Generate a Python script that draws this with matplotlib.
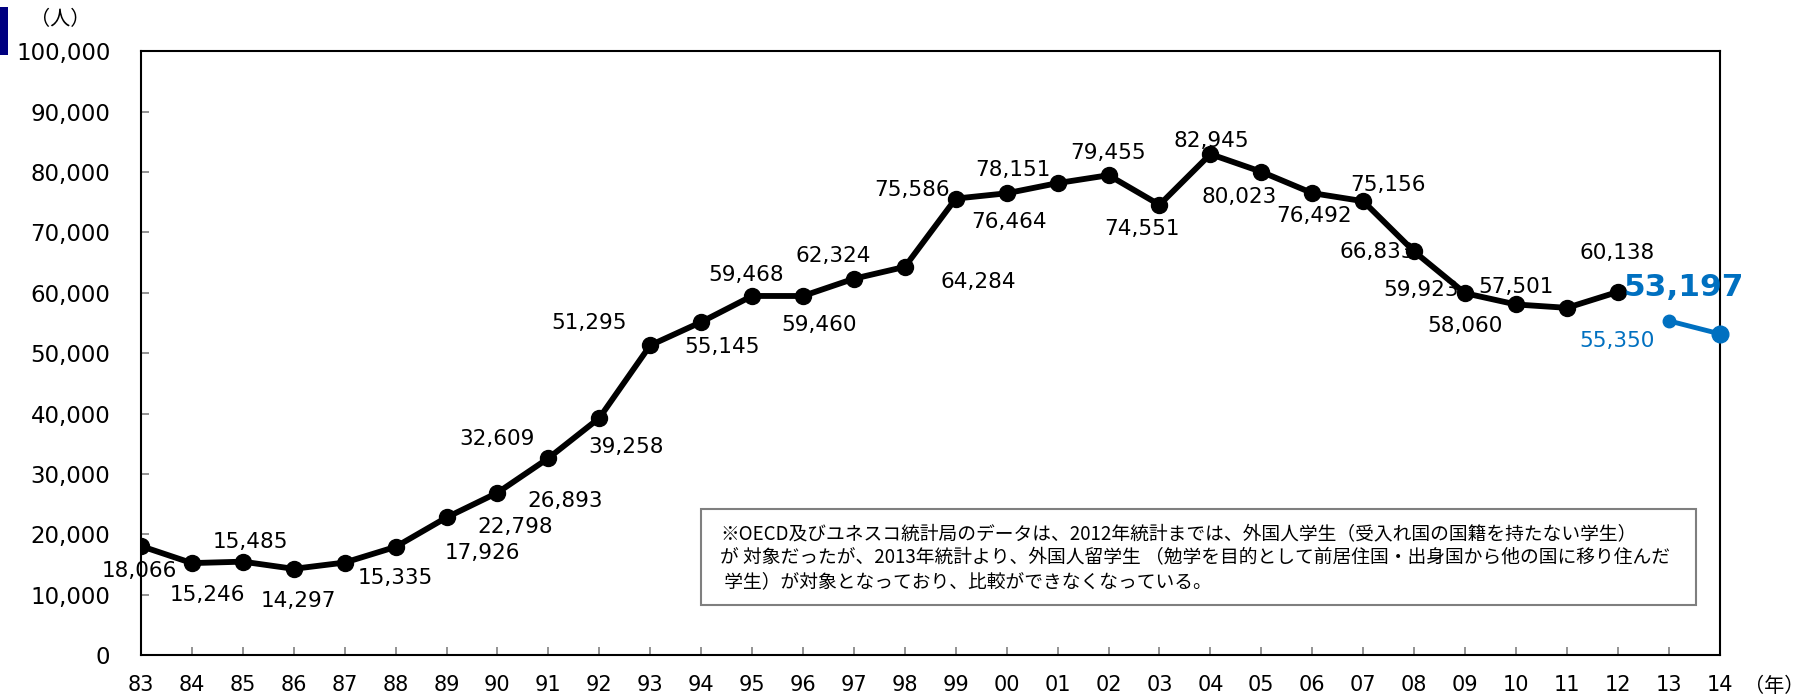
import matplotlib
matplotlib.use("Agg")
import matplotlib.pyplot as plt
from matplotlib.patches import Rectangle
import numpy as np

plt.rcParams['font.family'] = ['DejaVu Sans', 'Noto Sans CJK JP']

# data
years = ['83', '84', '85', '86', '87', '88', '89', '90', '91', '92', '93', '94', '95',
         '96', '97', '98', '99', '00', '01', '02', '03', '04', '05', '06', '07', '08',
         '09', '10', '11', '12', '13', '14']
students_old = [18066, 15246, 15485, 14297, 15335, 17926, 22798, 26893, 32609, 39258,
                51295, 55145, 59468, 59460, 62324, 64284, 75586, 76464, 78151, 79455,
                74551, 82945, 80023, 76492, 75156, 66833, 59923, 58060, 57501, 60138]
students_new = [55350, 53197]
yticks = list(range(0, 100001, 10000))
note = ("※OECD及びユネスコ統計局のデータは、2012年統計までは、外国人学生（受入れ国の国籍を持たない学生）\n"
        "が 対象だったが、2013年統計より、外国人留学生 （勉学を目的として前居住国・出身国から他の国に移り住んだ\n"
        " 学生）が対象となっており、比較ができなくなっている。")

# label offsets in pixels (hand placed like the original)
old_offsets = [(-2, -25), (16, -32), (8, 20), (5, -32), (51, -15), (87, -6), (69, -10),
               (68, -8), (-51, 19), (27, -29), (-61, 22), (21, -25), (-6, 21), (16, -29),
               (-21, 23), (73, -15), (-44, 9), (2, -29), (-45, 13), (0, 22), (-17, -24),
               (1, 13), (-22, -25), (2, -23), (25, 16), (-37, -1), (-44, 3), (-51, -22),
               (-51, 21), (-1, 39)]
new_offsets = [(-52, -20), (-36, 46)]

BLUE = '#0070C0'

fig = plt.figure(figsize=(18.14, 7.0), dpi=100)
ax = fig.add_axes([0.0777, 0.064, 0.8703, 0.863])

x_old = np.arange(len(students_old))
x_new = np.arange(len(students_old), len(years))

ax.plot(x_old, students_old, color='black', lw=4.2, marker='o', ms=11.5, zorder=3)
ax.plot(x_new, students_new, color=BLUE, lw=3.5, marker='o', ms=9, zorder=3)
ax.plot(x_new[-1:], students_new[-1:], color=BLUE, marker='o', ms=12, ls='none', zorder=4, clip_on=False)

for xi, v, off in zip(x_old, students_old, old_offsets):
    ax.annotate(f'{v:,}', (xi, v), xytext=off, textcoords='offset pixels',
                ha='center', va='center', fontsize=15.5, color='black')
ax.annotate(f'{students_new[0]:,}', (x_new[0], students_new[0]), xytext=new_offsets[0],
            textcoords='offset pixels', ha='center', va='center', fontsize=15.5, color=BLUE)
ax.annotate(f'{students_new[1]:,}', (x_new[1], students_new[1]), xytext=new_offsets[1],
            textcoords='offset pixels', ha='center', va='center', fontsize=22.5,
            fontweight='bold', color=BLUE)

ax.set_xlim(0, len(years) - 1)
ax.set_ylim(0, 100000)
ax.set_xticks(np.arange(len(years)))
ax.set_xticklabels(years)
ax.set_yticks(yticks)
ax.set_yticklabels([f'{t:,}' for t in yticks])
ax.tick_params(axis='both', direction='in', length=6, width=1.2, color='#808080',
               labelcolor='black')
ax.tick_params(axis='x', pad=14, labelsize=15)
ax.tick_params(axis='y', pad=22, labelsize=16.5)
for s in ax.spines.values():
    s.set_color('black')
    s.set_linewidth(1.5)

fig.text(60 / 1814, 1 - 20 / 700, '（人）', ha='center', va='center', fontsize=14.5,
         family=['Noto Sans CJK JP'])
fig.text(1774 / 1814, 1 - 686 / 700, '（年）', ha='center', va='center', fontsize=14.5,
         family=['Noto Sans CJK JP'])
fig.patches.append(Rectangle((0, 1 - 55 / 700), 8 / 1814, 48 / 700, transform=fig.transFigure,
                             facecolor='#000080', edgecolor='none'))

# note box
fig.patches.append(Rectangle((701 / 1814, 1 - 605 / 700), 995 / 1814, 96 / 700,
                             transform=fig.transFigure, facecolor='white',
                             edgecolor='#7f7f7f', lw=1.5, zorder=5))
fig.text(720 / 1814, 1 - 558 / 700, note, ha='left', va='center', fontsize=13.5,
         linespacing=1.15, family=['Noto Sans CJK JP', 'DejaVu Sans'], zorder=6)

fig.savefig('out.png', dpi=100)
